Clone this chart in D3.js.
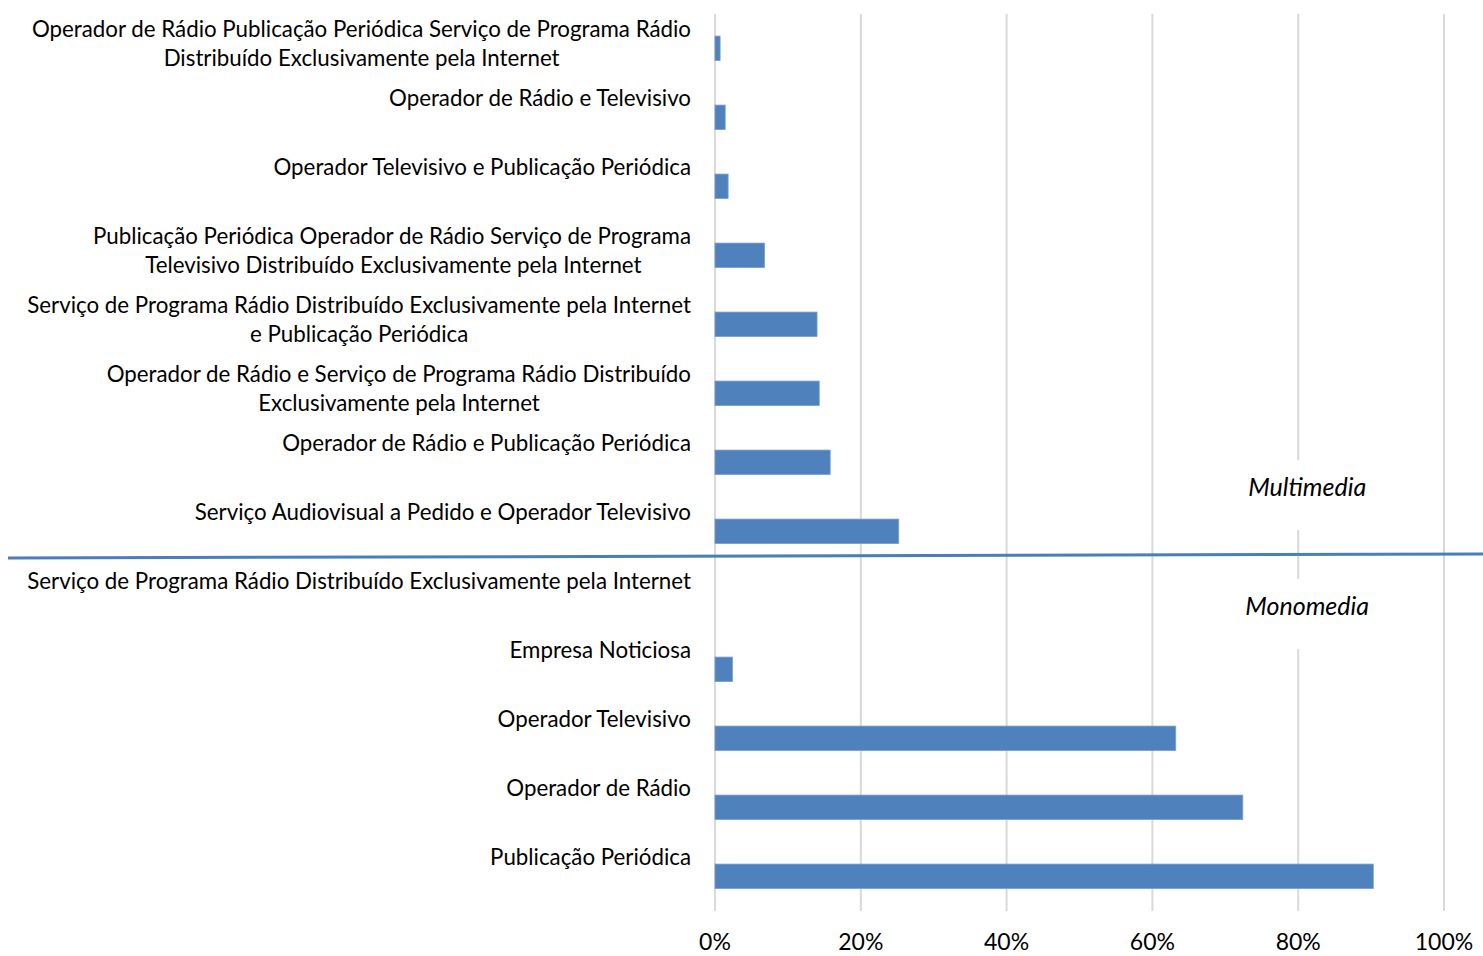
<!DOCTYPE html>
<html>
<head>
<meta charset="utf-8">
<script src="https://cdn.jsdelivr.net/npm/d3@7"></script>
<style>
  body { margin: 0; background: #fff; }
  svg { display: block; font-family: Lato, "Open Sans", sans-serif; }
</style>
</head>
<body>
<div id="chart"></div>
<script>
// Categories, top to bottom (line breaks as shown in the chart)
const categories = [
  "Operador de Rádio Publicação Periódica Serviço de Programa Rádio\nDistribuído Exclusivamente pela Internet",
  "Operador de Rádio e Televisivo",
  "Operador Televisivo e Publicação Periódica",
  "Publicação Periódica Operador de Rádio Serviço de Programa\nTelevisivo Distribuído Exclusivamente pela Internet",
  "Serviço de Programa Rádio Distribuído Exclusivamente pela Internet\ne Publicação Periódica",
  "Operador de Rádio e Serviço de Programa Rádio Distribuído\nExclusivamente pela Internet",
  "Operador de Rádio e Publicação Periódica",
  "Serviço Audiovisual a Pedido e Operador Televisivo",
  "Serviço de Programa Rádio Distribuído Exclusivamente pela Internet",
  "Empresa Noticiosa",
  "Operador Televisivo",
  "Operador de Rádio",
  "Publicação Periódica"
];

// Share of companies (%)
const values = [0.7, 1.4, 1.8, 6.8, 14.0, 14.3, 15.8, 25.2, 0, 2.4, 63.2, 72.4, 90.3];

const xTicks = [0, 20, 40, 60, 80, 100];
const groupLabels = ["Multimedia", "Monomedia"];

const width = 1483, height = 956;
const margin = {top: 14, bottom: 45, left: 715, right: 39};

const svg = d3.select("#chart")
  .append("svg")
  .attr("width", width)
  .attr("height", height);

const x = d3.scaleLinear()
  .domain([0, 100])
  .range([margin.left, width - margin.right]);

const y = d3.scaleBand()
  .domain(categories)
  .range([margin.top, height - margin.bottom]);

const bw = y.bandwidth();

// Gridlines
svg.append("g")
  .selectAll("line")
  .data(xTicks)
  .join("line")
  .attr("x1", d => x(d))
  .attr("x2", d => x(d))
  .attr("y1", margin.top)
  .attr("y2", height - margin.bottom)
  .attr("stroke", "#d9d9d9")
  .attr("stroke-width", 2);

// Bars
svg.append("g")
  .selectAll("rect")
  .data(categories)
  .join("rect")
  .attr("x", x(0))
  .attr("y", d => y(d) + bw * 0.32)
  .attr("width", (d, i) => x(values[i]) - x(0))
  .attr("height", bw * 0.355)
  .attr("fill", "#4f81bd")
  .attr("stroke", "#7a9fd0")
  .attr("stroke-width", 0.8);

// Category labels
const labels = svg.append("g")
  .selectAll("text")
  .data(categories)
  .join("text")
  .attr("x", 691)
  .attr("y", d => y(d) + 23)
  .attr("text-anchor", "end")
  .style("font-size", "22.3px")
  .attr("fill", "#000");

labels.each(function(d) {
  const lines = d.split("\n");
  const t = d3.select(this);
  lines.forEach((l, i) => {
    t.append("tspan")
      .attr("x", i === 0 ? 691 : null)
      .attr("dy", i === 0 ? 0 : 29)
      .text(l);
  });
  if (lines.length > 1) {
    // second line centred under the first
    const first = t.select("tspan").node();
    const w1 = first.getComputedTextLength();
    t.selectAll("tspan").filter((_, i) => i > 0)
      .attr("x", 691 - w1 / 2)
      .attr("text-anchor", "middle");
  }
});

// X axis tick labels
svg.append("g")
  .selectAll("text")
  .data(xTicks)
  .join("text")
  .attr("x", d => x(d))
  .attr("y", height - 6)
  .attr("text-anchor", "middle")
  .style("font-size", "23px")
  .text(d => d + "%");

// Divider between multimedia and monomedia
const splitY = y(categories[8]);
svg.append("line")
  .attr("x1", 8)
  .attr("x2", width)
  .attr("y1", splitY - 8)
  .attr("y2", splitY - 12)
  .attr("stroke", "#4a7ebb")
  .attr("stroke-width", 3);

// Group labels on white boxes
const boxX = x(60) + 2, boxW = x(100) - x(60) - 4;
[[splitY - 106, groupLabels[0]], [splitY + 13, groupLabels[1]]].forEach(([by, txt]) => {
  svg.append("rect")
    .attr("x", boxX)
    .attr("y", by)
    .attr("width", boxW)
    .attr("height", 70)
    .attr("fill", "#fff");
  svg.append("text")
    .attr("x", x(80) + 9)
    .attr("y", by + 36)
    .attr("text-anchor", "middle")
    .style("font-size", "25px")
    .style("font-style", "italic")
    .text(txt);
});
</script>
</body>
</html>
